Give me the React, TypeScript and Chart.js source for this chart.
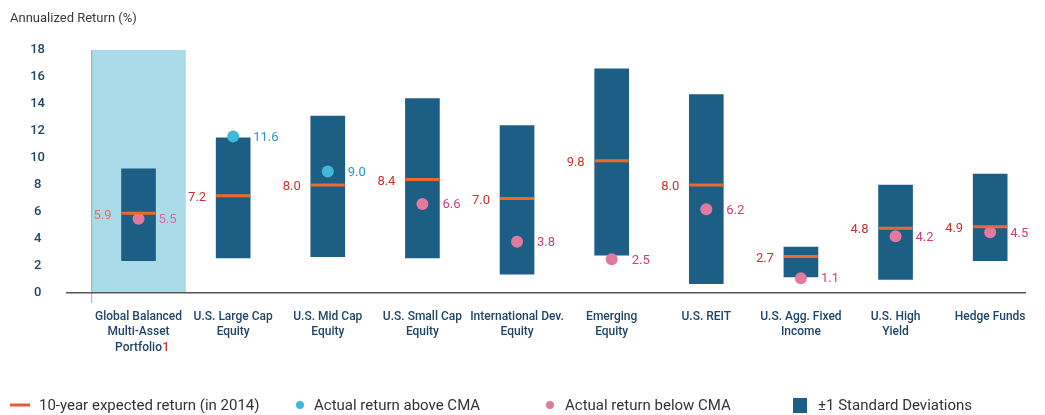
import { useEffect, useRef } from 'react';
import { Chart, registerables } from 'chart.js';

Chart.register(...registerables);

const categories: string[][] = [
  ['Global Balanced', 'Multi-Asset', 'Portfolio'],
  ['U.S. Large Cap', 'Equity'],
  ['U.S. Mid Cap', 'Equity'],
  ['U.S. Small Cap', 'Equity'],
  ['International Dev.', 'Equity'],
  ['Emerging', 'Equity'],
  ['U.S. REIT'],
  ['U.S. Agg. Fixed', 'Income'],
  ['U.S. High', 'Yield'],
  ['Hedge Funds'],
];
const expectedReturn = [5.9, 7.2, 8.0, 8.4, 7.0, 9.8, 8.0, 2.7, 4.8, 4.9];
const actualReturn = [5.5, 11.6, 9.0, 6.6, 3.8, 2.5, 6.2, 1.1, 4.2, 4.5];
const sdLow = [2.4, 2.6, 2.7, 2.6, 1.4, 2.8, 0.7, 1.2, 1.0, 2.4];
const sdHigh = [9.2, 11.5, 13.1, 14.4, 12.4, 16.6, 14.7, 3.4, 8.0, 8.8];
const yMin = 0;
const yMax = 18;
const yStep = 2;
const highlightIndex = 0;
const titleText = 'Annualized Return (%)';
const legendLabels = [
  '10-year expected return (in 2014)',
  'Actual return above CMA',
  'Actual return below CMA',
  '±1 Standard Deviations',
];

const BAR = '#1d5e85';
const ORANGE = '#ee6a2c';
const CYAN = '#41b8d8';
const PINK = '#e27aa0';
const RED_TXT = '#cc3129';
const BLUE_TXT = '#1f97cc';
const MAG_TXT = '#cc3d7a';
const NAVY = '#1e4468';
const FONT = 'Roboto, "Noto Sans", sans-serif';

const X_PAD = 16;
const X_FONT = 12;
const X_LH = 1.3;

export default function App() {
  const ref = useRef<HTMLCanvasElement | null>(null);

  useEffect(() => {
    if (!ref.current) return;
    Chart.defaults.font.family = FONT;

    const above = actualReturn
      .map((v, i) => ({ x: i, y: v }))
      .filter((p) => p.y > expectedReturn[p.x]);
    const below = actualReturn
      .map((v, i) => ({ x: i, y: v }))
      .filter((p) => p.y <= expectedReturn[p.x]);

    const bandPlugin = {
      id: 'band',
      beforeDraw(chart: any) {
        const { ctx, scales } = chart;
        const xs = scales.x;
        const ys = scales.y;
        const l = xs.getPixelForValue(highlightIndex - 0.5);
        const r = xs.getPixelForValue(highlightIndex + 0.5);
        const t = ys.getPixelForValue(yMax);
        const b = ys.getPixelForValue(yMin);
        ctx.save();
        ctx.fillStyle = '#a9dce8';
        ctx.fillRect(l, t, r - l, b - t - 1);
        ctx.strokeStyle = '#7cb6c6';
        ctx.lineWidth = 1;
        ctx.beginPath();
        ctx.moveTo(l + 0.5, t);
        ctx.lineTo(l + 0.5, b + 10);
        ctx.stroke();
        ctx.restore();
      },
    };

    const textPlugin = {
      id: 'texts',
      afterDatasetsDraw(chart: any) {
        const { ctx, scales } = chart;
        const xs = scales.x;
        const ys = scales.y;
        ctx.save();
        ctx.font = `13px ${FONT}`;
        ctx.textBaseline = 'middle';
        for (let i = 0; i < expectedReturn.length; i++) {
          const cx = xs.getPixelForValue(i);
          const left = cx - 17;
          const right = cx + 17;
          ctx.textAlign = 'right';
          ctx.fillStyle = i === highlightIndex ? '#e8705a' : RED_TXT;
          ctx.fillText(expectedReturn[i].toFixed(1), left - 10, ys.getPixelForValue(expectedReturn[i]) + 2);
          ctx.textAlign = 'left';
          const isAbove = actualReturn[i] > expectedReturn[i];
          ctx.fillStyle = isAbove ? BLUE_TXT : i === highlightIndex ? '#d86a9a' : MAG_TXT;
          ctx.fillText(actualReturn[i].toFixed(1), right + 3, ys.getPixelForValue(actualReturn[i]) + 1);
        }
        ctx.restore();
      },
      afterDraw(chart: any) {
        const { ctx, scales } = chart;
        const xs = scales.x;
        ctx.save();
        // title
        ctx.font = `13px ${FONT}`;
        ctx.fillStyle = '#3a3a3a';
        ctx.textBaseline = 'middle';
        ctx.textAlign = 'left';
        ctx.fillText(titleText, 10, 19);
        // red footnote marker after "Portfolio"
        ctx.font = `500 ${X_FONT}px ${FONT}`;
        const last = categories[highlightIndex][categories[highlightIndex].length - 1];
        const w = ctx.measureText(last).width;
        const lh = X_FONT * X_LH;
        const yLine = xs.top + X_PAD + lh * (categories[highlightIndex].length - 0.5);
        ctx.fillStyle = '#d8322a';
        ctx.fillText('1', xs.getPixelForValue(highlightIndex) + w / 2 + 0.5, yLine);
        // legend
        const ly = 406;
        ctx.font = `15px ${FONT}`;
        ctx.fillStyle = '#333';
        ctx.strokeStyle = '#e45a3a';
        ctx.lineWidth = 3;
        ctx.beginPath();
        ctx.moveTo(10, ly - 1);
        ctx.lineTo(30, ly - 1);
        ctx.stroke();
        ctx.fillText(legendLabels[0], 39, ly);
        ctx.fillStyle = CYAN;
        ctx.beginPath();
        ctx.arc(300, ly - 1, 4, 0, Math.PI * 2);
        ctx.fill();
        ctx.fillStyle = '#333';
        ctx.fillText(legendLabels[1], 314, ly);
        ctx.fillStyle = PINK;
        ctx.beginPath();
        ctx.arc(550, ly - 1, 4, 0, Math.PI * 2);
        ctx.fill();
        ctx.fillStyle = '#333';
        ctx.fillText(legendLabels[2], 565, ly);
        ctx.fillStyle = BAR;
        ctx.fillRect(793, 398, 14, 15);
        ctx.fillStyle = '#333';
        ctx.fillText(legendLabels[3], 818, ly);
        ctx.restore();
      },
    };

    const chart = new Chart(ref.current, {
      type: 'bar',
      data: {
        datasets: [
          {
            type: 'bar',
            label: legendLabels[3],
            data: sdLow.map((lo, i) => ({ x: i, y: [lo, sdHigh[i]] })) as any,
            backgroundColor: BAR,
            borderWidth: 0,
            borderSkipped: false,
            barThickness: 34,
            order: 3,
          },
          {
            type: 'line',
            label: legendLabels[1],
            data: above,
            showLine: false,
            pointStyle: 'circle',
            pointRadius: 6,
            pointBackgroundColor: CYAN,
            pointBorderWidth: 0,
            order: 2,
          },
          {
            type: 'line',
            label: legendLabels[2],
            data: below,
            showLine: false,
            pointStyle: 'circle',
            pointRadius: 6,
            pointBackgroundColor: PINK,
            pointBorderWidth: 0,
            order: 1,
          },
          {
            type: 'line',
            label: legendLabels[0],
            data: expectedReturn.map((v, i) => ({ x: i, y: v })),
            showLine: false,
            pointStyle: 'line',
            pointRadius: 17,
            pointBorderColor: ORANGE,
            pointBorderWidth: 3,
            order: 0,
          },
        ] as any,
      },
      options: {
        animation: false,
        responsive: false,
        events: [],
        layout: { padding: { top: 50, left: 0, right: 0, bottom: 0 } },
        plugins: {
          legend: { display: false },
          tooltip: { enabled: false },
          title: { display: false },
        },
        scales: {
          x: {
            type: 'linear',
            min: -0.756,
            max: 9.368,
            offset: false,
            grid: { display: false, drawTicks: false, tickLength: 0, offset: false },
            border: { display: true, color: '#555', width: 1.5 },
            afterBuildTicks: (axis: any) => {
              axis.ticks = categories.map((_, i) => ({ value: i }));
            },
            afterFit: (axis: any) => {
              axis.height = 122;
            },
            ticks: {
              autoSkip: false,
              maxRotation: 0,
              minRotation: 0,
              padding: X_PAD,
              color: NAVY,
              font: { size: X_FONT, weight: 500, lineHeight: X_LH },
              callback: (value: any) => categories[value as number] ?? '',
            },
          },
          y: {
            type: 'linear',
            min: yMin,
            max: yMax,
            grid: { display: false, drawTicks: false, tickLength: 0 },
            border: { display: false },
            afterFit: (axis: any) => {
              axis.width = 67;
            },
            ticks: {
              stepSize: yStep,
              padding: 22,
              crossAlign: 'center',
              color: NAVY,
              font: { size: 13, weight: 500 },
            },
          },
        },
      } as any,
      plugins: [bandPlugin, textPlugin],
    });

    return () => chart.destroy();
  }, []);

  return (
    <div style={{ position: 'fixed', left: 0, top: 0, width: 1045, height: 415, background: '#fff' }}>
      <canvas ref={ref} width={1045} height={415} style={{ display: 'block' }} />
    </div>
  );
}
